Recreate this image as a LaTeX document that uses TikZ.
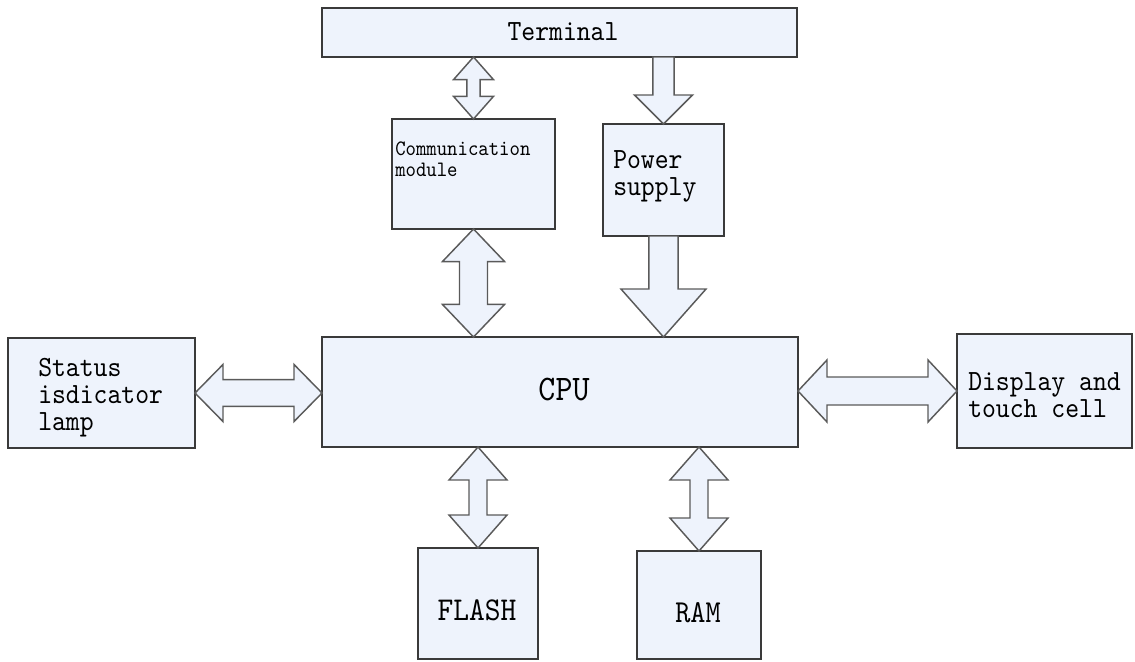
\documentclass[tikz,border=0pt]{standalone}
\usepackage{fontspec}
\setmonofont{lmmono10-regular}[Extension=.otf, FakeStretch=0.9]
\usetikzlibrary{calc}
\definecolor{boxfill}{HTML}{EEF3FC}
\definecolor{boxline}{HTML}{3A3A3A}
\definecolor{arrline}{HTML}{5A5A5A}
\tikzset{
  box/.style 2 args={draw=boxline, fill=boxfill, line width=1.6pt,
    minimum width=#1*0.75pt, minimum height=#2*0.75pt, inner sep=0pt, outer sep=0pt},
  barrow/.style={draw=arrline, fill=boxfill, line width=1.1pt, line join=miter},
  lbl/.style={inner sep=0pt, align=left, text=black},
}
% vertical double block arrow: #1 top point, #2 bottom point, #3 shaft half width, #4 head half width, #5 head length
\newcommand\vdbl[5]{%
  \draw[barrow] let \p1=(#1), \p2=(#2) in
    (\x1,\y1) -- (\x1+#4,\y1-#5) -- (\x1+#3,\y1-#5) -- (\x1+#3,\y2+#5) -- (\x1+#4,\y2+#5)
    -- (\x1,\y2) -- (\x1-#4,\y2+#5) -- (\x1-#3,\y2+#5) -- (\x1-#3,\y1-#5) -- (\x1-#4,\y1-#5) -- cycle;}
% vertical single block arrow pointing down
\newcommand\vsgl[5]{%
  \draw[barrow] let \p1=(#1), \p2=(#2) in
    (\x1-#3,\y1) -- (\x1+#3,\y1) -- (\x1+#3,\y2+#5) -- (\x1+#4,\y2+#5) -- (\x1,\y2)
    -- (\x1-#4,\y2+#5) -- (\x1-#3,\y2+#5) -- cycle;}
% horizontal double block arrow: #1 left point, #2 right point
\newcommand\hdbl[5]{%
  \draw[barrow] let \p1=(#1), \p2=(#2) in
    (\x1,\y1) -- (\x1+#5,\y1+#4) -- (\x1+#5,\y1+#3) -- (\x2-#5,\y1+#3) -- (\x2-#5,\y1+#4)
    -- (\x2,\y1) -- (\x2-#5,\y1-#4) -- (\x2-#5,\y1-#3) -- (\x1+#5,\y1-#3) -- (\x1+#5,\y1-#4) -- cycle;}
\begin{document}
\begin{tikzpicture}[x=0.75pt,y=-0.75pt]
\useasboundingbox (0,0) rectangle (1135,661);
% boxes
\node[box={475}{49}]  (term)    at (559.5,32.5) {};
\node[box={163}{110}] (comm)    at (473.5,174)  {};
\node[box={121}{112}] (power)   at (663.5,180)  {};
\node[box={476}{110}] (cpu)     at (560,392)    {};
\node[box={187}{110}] (status)  at (101.5,393)  {};
\node[box={175}{114}] (display) at (1044.5,391) {};
\node[box={120}{111}] (flash)   at (478,603.5)  {};
\node[box={124}{108}] (ram)     at (699,605)    {};
% texts
\node[lbl, font=\ttfamily\fontsize{22}{24}\selectfont] (termt) at (563,31.5) {Terminal};
\node[lbl, font=\ttfamily\fontsize{16.5}{15.5}\selectfont, anchor=north west] (commt) at (395,142) {Communication\\module};
\node[lbl, font=\ttfamily\fontsize{22}{20.5}\selectfont, anchor=north west] (powert) at (613,150) {Power\\supply};
\node[lbl, font=\ttfamily\fontsize{27}{30}\selectfont] (cput) at (564,389) {CPU};
\node[lbl, font=\ttfamily\fontsize{22}{20.25}\selectfont, anchor=north west] (statust) at (38,358) {Status\\isdicator\\lamp};
\node[lbl, font=\ttfamily\fontsize{22}{20.5}\selectfont, anchor=north west] (displayt) at (968,372) {Display and\\touch cell};
\node[lbl, font=\ttfamily\fontsize{25}{30}\selectfont] (flasht) at (477,610) {FLASH};
\node[lbl, font=\ttfamily\fontsize{24}{30}\selectfont] (ramt) at (698,613) {RAM};
% arrows
\vdbl{term.south -| comm.north}{comm.north}{4.9pt}{15pt}{17pt}
\vsgl{term.south -| power.north}{power.north}{7.9pt}{21.75pt}{21.75pt}
\vdbl{comm.south}{comm.south |- cpu.north}{10.5pt}{23.25pt}{24.4pt}
\vsgl{power.south}{power.south |- cpu.north}{10.9pt}{31.9pt}{36pt}
\hdbl{status.east}{status.east -| cpu.west}{10.1pt}{21.4pt}{21pt}
\hdbl{cpu.east |- display.west}{display.west}{10.5pt}{23.25pt}{21.75pt}
\vdbl{cpu.south -| flash.north}{flash.north}{6.75pt}{21.75pt}{24.75pt}
\vdbl{cpu.south -| ram.north}{ram.north}{6.75pt}{21.75pt}{24.75pt}
\end{tikzpicture}
\end{document}
